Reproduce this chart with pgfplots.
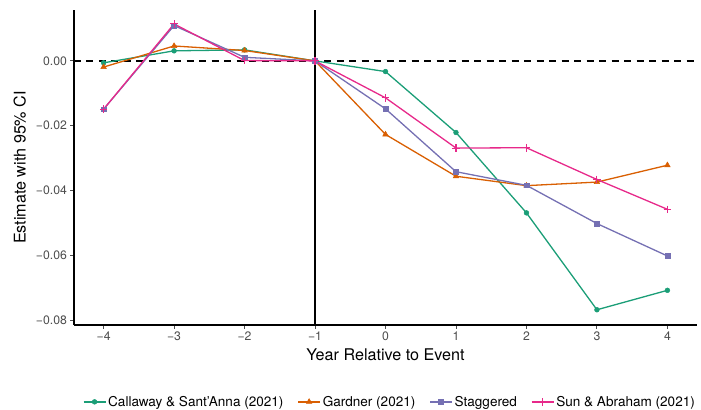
\documentclass[border=0pt]{standalone}
\usepackage{fontspec}
\setmainfont{TeX Gyre Heros}
\usepackage{pgfplots}
\pgfplotsset{compat=1.18}
\definecolor{cgreen}{HTML}{1B9E77}
\definecolor{corange}{HTML}{D95F02}
\definecolor{cpurple}{HTML}{7570B3}
\definecolor{cpink}{HTML}{E7298A}
\definecolor{gray30}{HTML}{4D4D4D}
\begin{document}
\begin{tikzpicture}
\begin{axis}[
  width=623bp, height=315bp, scale only axis,
  xmin=-4.42, xmax=4.42, ymin=-0.0815, ymax=0.0157,
  axis x line*=bottom, axis y line*=left,
  axis line style={black, line width=1.1bp},
  scaled y ticks=false, scaled x ticks=false,
  xtick={-4,-3,-2,-1,0,1,2,3,4},
  xticklabels={−4,−3,−2,−1,0,1,2,3,4},
  ytick={-0.08,-0.06,-0.04,-0.02,0},
  yticklabels={−0.08,−0.06,−0.04,−0.02,0.00},
  tick align=outside, major tick length=3.5bp,
  tick style={gray30, line width=0.9bp},
  ticklabel style={font=\fontsize{12.3}{14}\selectfont, text=gray30},
  xlabel={Year Relative to Event},
  ylabel={Estimate with 95\% CI},
  label style={font=\fontsize{16.2}{19}\selectfont},
  xlabel style={at={(axis description cs:0.5,-0.095)}, anchor=center},
  ylabel style={at={(axis description cs:-0.087,0.5)}, anchor=center},
  legend columns=4,
  legend image code/.code={\draw[mark repeat=2,mark phase=2] plot coordinates {(0bp,0bp) (11bp,0bp) (22bp,0bp)};},
  legend style={draw=none, fill=none, at={(axis description cs:0.507,-0.244)}, anchor=center,
    font=\fontsize{13.6}{15}\selectfont,
    /tikz/every even column/.append style={column sep=12bp}},
  legend cell align=left,
]
\addplot[black, dashed, dash pattern=on 7bp off 5.5bp, line width=1.3bp, forget plot] coordinates {(-4.42,0) (4.42,0)};
\addplot[black, line width=1.2bp, forget plot] coordinates {(-1,-0.0815) (-1,0.0157)};

\addplot[cgreen, line width=1.3bp, mark=*, mark size=2.4bp, mark options={fill=cgreen, line width=0.5bp}] coordinates {
(-4,-0.0006) (-3,0.0031) (-2,0.0034) (-1,0) (0,-0.0033) (1,-0.0221) (2,-0.0469) (3,-0.0768) (4,-0.0708)};
\addlegendentry{Callaway \& Sant'Anna (2021)}
\addplot[corange, line width=1.3bp, mark=triangle*, mark size=3.2bp, mark options={fill=corange, line width=0.5bp}] coordinates {
(-4,-0.0019) (-3,0.0046) (-2,0.0032) (-1,0) (0,-0.0227) (1,-0.0356) (2,-0.0385) (3,-0.0374) (4,-0.0322)};
\addlegendentry{Gardner (2021)}
\addplot[cpurple, line width=1.3bp, mark=square*, mark size=2.4bp, mark options={fill=cpurple, line width=0.5bp}] coordinates {
(-4,-0.0149) (-3,0.0109) (-2,0.0011) (-1,0) (0,-0.0148) (1,-0.0342) (2,-0.0384) (3,-0.0502) (4,-0.0602)};
\addlegendentry{Staggered}
\addplot[cpink, line width=1.3bp, mark=+, mark size=3.8bp, mark options={line width=1.1bp}] coordinates {
(-4,-0.0149) (-3,0.0114) (-2,0.0001) (-1,0) (0,-0.0114) (1,-0.0269) (2,-0.0268) (3,-0.0366) (4,-0.0458)};
\addlegendentry{Sun \& Abraham (2021)}
\coordinate (O) at (rel axis cs:0,0);
\end{axis}
\pgfresetboundingbox
\path[use as bounding box] (O) ++(-74bp,-85bp) rectangle ++(701bp,410bp);
\end{tikzpicture}
\end{document}
